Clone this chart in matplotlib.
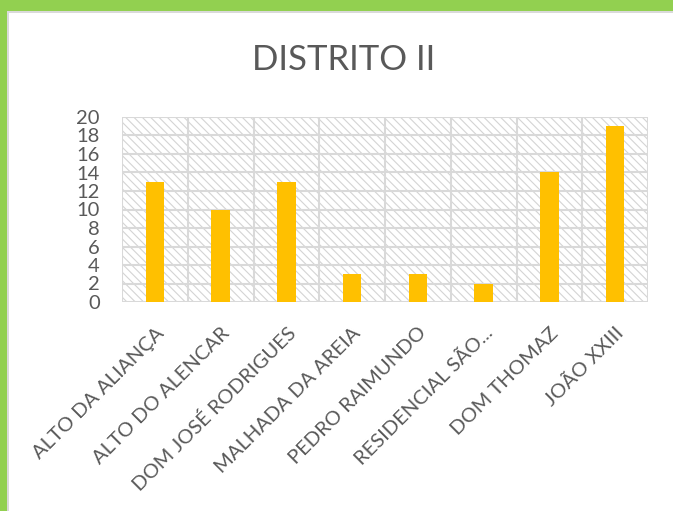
import matplotlib.pyplot as plt
from matplotlib.patches import Rectangle

# data
bairros = ['ALTO DA ALIANÇA', 'ALTO DO ALENCAR', 'DOM JOSÉ RODRIGUES', 'MALHADA DA AREIA',
           'PEDRO RAIMUNDO', 'RESIDENCIAL SÃO...', 'DOM THOMAZ', 'JOÃO XXIII']
valores = [13, 10, 13, 3, 3, 2, 14, 19]
y_ticks = list(range(0, 21, 2))

plt.rcParams['font.family'] = ['Lato', 'DejaVu Sans']
plt.rcParams['hatch.linewidth'] = 0.8
plt.rcParams['hatch.color'] = '#D4D4D4'

fig = plt.figure(figsize=(6.73, 5.11), dpi=100)
ax = fig.add_axes([122 / 673, 1 - 302 / 511, 526 / 673, 185 / 511])

# green frame of the slide (top and left)
fig.patches.append(Rectangle((0, 1 - 11 / 511), 1, 11 / 511, transform=fig.transFigure,
                             facecolor='#92D050', edgecolor='none'))
fig.patches.append(Rectangle((0, 1 - 13 / 511), 1, 2 / 511, transform=fig.transFigure,
                             facecolor='#DADADA', edgecolor='none'))
fig.patches.append(Rectangle((0, 0), 7 / 673, 1, transform=fig.transFigure,
                             facecolor='#92D050', edgecolor='none'))
fig.patches.append(Rectangle((7 / 673, 0), 2 / 673, 1 - 11 / 511, transform=fig.transFigure,
                             facecolor='#DADADA', edgecolor='none'))

# hatched plot area
ax.add_patch(Rectangle((0, 0), 1, 1, transform=ax.transAxes, facecolor='white',
                       edgecolor='#D4D4D4', hatch='\\\\\\\\', linewidth=0, zorder=0))

x = list(range(len(bairros)))
ax.bar(x, valores, width=0.28, color='#FFC000', zorder=3)

ax.set_xlim(-0.5, len(bairros) - 0.5)
ax.set_ylim(0, 20)
ax.set_yticks(y_ticks)
ax.set_yticklabels([str(v) for v in y_ticks])
ax.set_xticks(x)
ax.set_xticklabels(bairros, rotation=45, ha='right', rotation_mode='anchor')

# gridlines: horizontal at every tick, vertical at category boundaries
for v in y_ticks:
    ax.axhline(v, color='#D9D9D9', linewidth=1.5, zorder=1)
for b in range(len(bairros) + 1):
    ax.axvline(b - 0.5, color='#D9D9D9', linewidth=1.5, zorder=1)

for s in ax.spines.values():
    s.set_visible(False)

ax.tick_params(axis='y', length=0, pad=16, labelsize=14.5, labelcolor='#595959')
ax.tick_params(axis='x', length=0, pad=16, labelsize=14.5, labelcolor='#595959')

fig.text(0.51, 1 - 60 / 511, 'DISTRITO II', ha='center', va='center',
         fontsize=25, color='#595959')

fig.savefig('out.png', dpi=100)
